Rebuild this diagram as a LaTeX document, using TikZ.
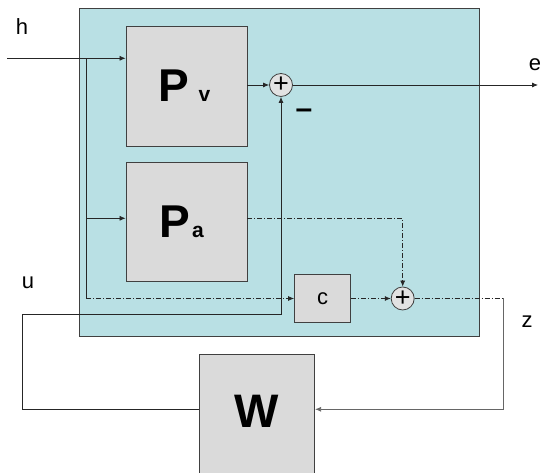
\documentclass[tikz,border=0pt]{standalone}
\usepackage{fontspec}
\setmainfont{Liberation Sans}
\usetikzlibrary{arrows.meta}
\definecolor{sysfill}{RGB}{185,224,228}
\definecolor{boxgray}{RGB}{218,218,218}
\definecolor{sumgray}{RGB}{226,226,226}
\begin{document}
\begin{tikzpicture}[x=1pt,y=1pt,
  sysbox/.style={draw=black!75, fill=sysfill, line width=0.8pt, inner sep=0pt, anchor=south west},
  blk/.style={draw=black!75, fill=boxgray, line width=0.8pt, inner sep=0pt},
  sumnode/.style={circle, draw=black!75, fill=sumgray, line width=0.8pt, minimum size=23pt, inner sep=0pt, font=\fontsize{27}{27}\selectfont},
  conn/.style={draw=black!85, line width=0.75pt},
  arr/.style={-{Latex[length=6pt,width=5pt]}},
  dd/.style={dash pattern=on 5pt off 2pt on 1pt off 2pt},
  lbl/.style={font=\fontsize{22}{22}\selectfont, inner sep=0pt}]
\path[use as bounding box] (0,0) rectangle (542,473);
\clip (0,0) rectangle (542,473);
% system box
\node[sysbox, minimum width=400.5pt, minimum height=328pt] (sys) at (78.5,136) {};
% blocks
\node[blk, minimum width=121pt, minimum height=120pt] (pv) at (186.5,387)
  {\fontsize{46}{46}\selectfont\bfseries P\kern9pt\fontsize{21}{21}\selectfont v\kern4pt};
\node[blk, minimum width=121pt, minimum height=119pt] (pa) at (186.5,251.5)
  {\fontsize{46}{46}\selectfont\bfseries P\kern2pt\fontsize{21}{21}\selectfont a\kern10pt};
\node[blk, minimum width=56pt, minimum height=48pt, font=\fontsize{22}{22}\selectfont] (c) at (322.5,174.5) {c};
\node[blk, minimum width=115.4pt, minimum height=140pt, text depth=26.6pt, font=\fontsize{47}{47}\selectfont\bfseries] (W) at (257,48.7) {W};
% summing junctions
\node[sumnode] (s1) at (281,388) {+};
\node[sumnode] (s2) at (402.7,174.5) {+};
% coordinates
\coordinate (hin) at (7,414.7);
\coordinate (hb) at (86,414.7);
\coordinate (pain) at (86,254.7);
\coordinate (hbot) at (86,174.5);
\coordinate (uc) at (22.3,158.7);
\coordinate (zc) at (503.3,174.5);
\coordinate (eout) at (538,388);
% connectors
\draw[conn,arr] (hin) -- (pv.west |- hin);
\draw[conn] (hb) -- (hbot);
\draw[conn,arr] (pain) -- (pa.west |- pain);
\draw[conn,dd,arr] (hbot) -- (c);
\draw[conn,dd,arr] (c) -- (s2);
\draw[conn,dd,arr] (pa.east |- pain) -| (s2);
\draw[conn,arr] (pv.east |- s1) -- (s1);
\draw[conn,arr] (s1) -- (eout);
\draw[conn,arr] ([yshift=15pt]W.west) -| (uc) -| (s1);
\draw[conn,dd] (s2) -- (zc);
\draw[conn,draw=black!60,arr] (zc) |- ([yshift=15pt]W.east);
% labels
\node[lbl] (lh) at (22,446) {h};
\node[lbl] (le) at (535,408) {e};
\node[lbl] (lu) at (28,190) {u};
\node[lbl] (lz) at (527,151) {z};
\node[inner sep=0pt, font=\fontsize{30}{30}\selectfont\bfseries] (minus) at (304,359) {–};
\end{tikzpicture}
\end{document}
